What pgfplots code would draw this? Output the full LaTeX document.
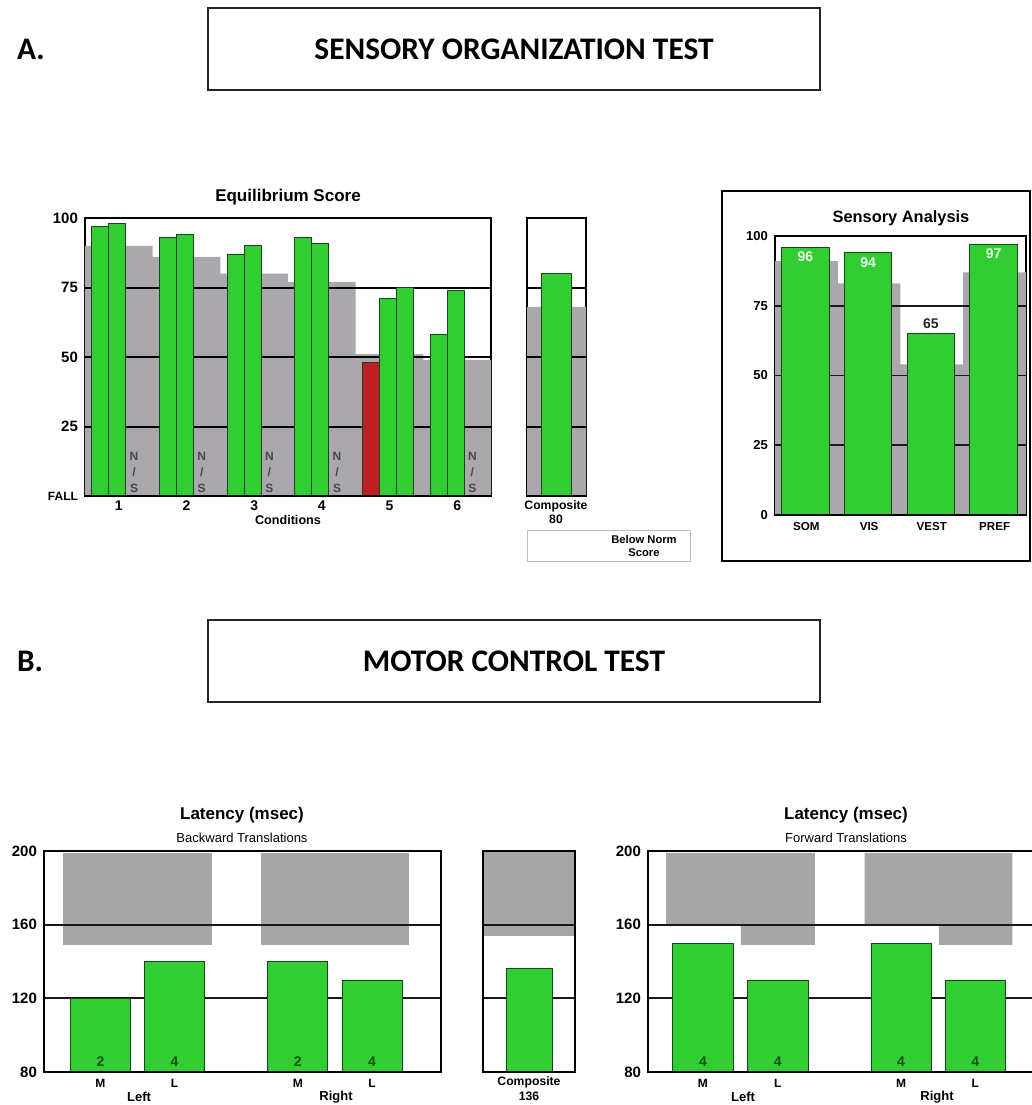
\documentclass[border=0pt]{standalone}
\usepackage{pgfplots}
\pgfplotsset{compat=1.18}
\usepackage{fontspec}
\setmainfont{Liberation Sans}
\newfontfamily\calfont{Carlito}
\definecolor{barg}{RGB}{50,205,50}
\definecolor{normg}{RGB}{170,168,172}
\definecolor{latg}{RGB}{166,166,166}
\definecolor{fallr}{RGB}{190,30,36}
\definecolor{edgeg}{RGB}{25,70,25}
\definecolor{numg}{RGB}{15,85,15}
\definecolor{nsg}{RGB}{70,70,75}
\newcommand{\fs}[1]{\fontsize{#1}{#1}\selectfont}
\pgfplotsset{
  panel/.style={scale only axis, anchor=north west,
    axis line style={line width=1pt},
    major tick length=0pt, tick style={draw=none},
    /pgf/number format/assume math mode=true,
    tick label style={font=\bfseries\fs{7.5}},
  },
  gline/.style={black, line width=1pt},
  lline/.style={black!90, line width=0.95pt},
  greenbar/.style={ybar, bar shift=0pt, fill=barg, draw=edgeg, line width=0.4pt},
}
\begin{document}
\begin{tikzpicture}[x=0.5pt,y=-0.5pt]
\useasboundingbox (0,0) rectangle (1032,1105);
\clip (0,0) rectangle (1032,1105);
\fill[white] (0,0) rectangle (1032,1105);

% ---------- headers
\draw[line width=0.8pt, black!85] (208,8) rectangle (820,90);
\node[font=\calfont\bfseries\fs{15.7}] at (514,49) {SENSORY ORGANIZATION TEST};
\node[font=\calfont\bfseries\fs{15.7}, anchor=west] at (10,49) {A.};
\draw[line width=0.8pt, black!85] (208,620) rectangle (820,702);
\node[font=\calfont\bfseries\fs{15.7}] at (514,661) {MOTOR CONTROL TEST};
\node[font=\calfont\bfseries\fs{15.7}, anchor=west] at (10,661) {B.};

% ---------- Equilibrium score
\node[font=\bfseries\fs{8.5}] at (288,197) {Equilibrium Score};
\begin{axis}[panel, name=eq, at={(42.5pt,-109pt)}, width=203pt, height=139pt,
  xmin=0, xmax=6, ymin=0, ymax=100,
  xtick={0.5,1.5,2.5,3.5,4.5,5.5}, xticklabels={1,2,3,4,5,6},
  ytick={0,25,50,75,100}, yticklabels={{\fs{6}FALL},25,50,75,100},
  xticklabel style={font=\bfseries\fs{7}, yshift=1pt}]
\addplot[const plot, fill=normg, draw=none] coordinates {(0,90)(1,86)(2,80)(3,77)(4,51)(5,49)(6,49)} \closedcycle;
\addplot[gline] coordinates {(0,25)(6,25)};
\addplot[gline] coordinates {(0,50)(6,50)};
\addplot[gline] coordinates {(0,75)(6,75)};
\addplot[greenbar, bar width=0.25] coordinates {(0.225,97)(1.225,93)(2.225,87)(3.225,93)(5.225,58)};
\addplot[greenbar, bar width=0.25, fill=fallr] coordinates {(4.225,48)};
\addplot[greenbar, bar width=0.25] coordinates {(0.475,98)(1.475,94)(2.475,90)(3.475,91)(4.475,71)(5.475,74)};
\addplot[greenbar, bar width=0.25] coordinates {(4.725,75)};
\foreach \c in {0.725,1.725,2.725,3.725,5.725}{
  \edef\tmp{\noexpand\node[font=\noexpand\bfseries\noexpand\fontsize{6}{8}\noexpand\selectfont, text=nsg, align=center, anchor=south, inner sep=0pt] at (axis cs:\c,1) {N\noexpand\\/\noexpand\\S};}
  \tmp
}
\end{axis}
\draw[line width=1.3pt] (eq.south west) -- (eq.south east);
\node[font=\bfseries\fs{6.3}] at (288,520) {Conditions};

% ---------- Composite (SOT)
\begin{axis}[panel, name=ca, at={(263.5pt,-109pt)}, width=29.5pt, height=139pt,
  xmin=0, xmax=1, ymin=0, ymax=100, xtick=\empty, ytick=\empty]
\addplot[const plot, fill=normg, draw=none] coordinates {(0,68)(1,68)} \closedcycle;
\addplot[gline] coordinates {(0,25)(1,25)};
\addplot[gline] coordinates {(0,50)(1,50)};
\addplot[gline] coordinates {(0,75)(1,75)};
\addplot[greenbar, bar width=0.5] coordinates {(0.5,80)};
\end{axis}
\draw[line width=1.3pt] (ca.south west) -- (ca.south east);
\node[font=\bfseries\fontsize{6.1}{7}\selectfont, align=center] at (556,512) {Composite\\80};
\draw[black!25, line width=0.5pt] (527,530) rectangle (690,561);
\node[font=\bfseries\fontsize{5.6}{6.5}\selectfont, align=center] at (644,546) {Below Norm\\Score};

% ---------- Sensory analysis
\draw[line width=1pt] (722,191) rectangle (1030,561);
\node[font=\bfseries\fs{8.2}] at (901,218) {Sensory Analysis};
\begin{axis}[panel, name=sa, at={(387.5pt,-118pt)}, width=125.5pt, height=139.5pt,
  xmin=0, xmax=4, ymin=0, ymax=100,
  xtick={0.5,1.5,2.5,3.5}, xticklabels={SOM,VIS,VEST,PREF},
  ytick={0,25,50,75,100}, yticklabels={0,25,50,75,100},
  yticklabel style={font=\bfseries\fs{6.5}},
  xticklabel style={font=\bfseries\fs{5.8}}]
\addplot[const plot, fill=normg, draw=none] coordinates {(0,91)(1,83)(2,54)(3,87)(4,87)} \closedcycle;
\addplot[lline] coordinates {(0,25)(4,25)};
\addplot[lline] coordinates {(0,50)(4,50)};
\addplot[lline] coordinates {(0,75)(4,75)};
\addplot[greenbar, bar width=0.754] coordinates {(0.483,96)(1.483,94)(2.483,65)(3.483,97)};
\node[font=\bfseries\fs{7}, text=green!8] at (axis cs:0.483,92.5) {96};
\node[font=\bfseries\fs{7}, text=green!8] at (axis cs:1.483,90.5) {94};
\node[font=\bfseries\fs{7}, text=black!85] at (axis cs:2.483,68.5) {65};
\node[font=\bfseries\fs{7}, text=green!8] at (axis cs:3.483,93.5) {97};
\end{axis}
\draw[line width=1.2pt] (sa.south west) -- (sa.south east);

% ---------- Latency, backward
\node[font=\bfseries\fs{8.5}] at (242,815) {Latency (msec)};
\node[font=\fs{6.5}] at (242,838) {Backward Translations};
\begin{axis}[panel, axis on top, name=lb, at={(22pt,-425.5pt)}, width=198.5pt, height=110.5pt,
  xmin=0, xmax=5.35, ymin=80, ymax=200,
  xtick={0.76,1.76,3.42,4.42}, xticklabels={M,L,M,L},
  ytick={80,120,160,200}, yticklabels={80,120,160,200},
  xticklabel style={font=\bfseries\fs{6}}]
\addplot[fill=latg, draw=none] coordinates {(0.26,149)(2.26,149)(2.26,199)(0.26,199)} -- cycle;
\addplot[fill=latg, draw=none] coordinates {(2.92,149)(4.92,149)(4.92,199)(2.92,199)} -- cycle;
\addplot[lline] coordinates {(0,120)(5.35,120)};
\addplot[lline] coordinates {(0,160)(5.35,160)};
\addplot[greenbar, bar width=0.81] coordinates {(0.76,120)(1.76,140)(3.42,140)(4.42,130)};
\node[font=\bfseries\fs{7}, text=numg] at (axis cs:0.76,85.5) {2};
\node[font=\bfseries\fs{7}, text=numg] at (axis cs:1.76,85.5) {4};
\node[font=\bfseries\fs{7}, text=numg] at (axis cs:3.42,85.5) {2};
\node[font=\bfseries\fs{7}, text=numg] at (axis cs:4.42,85.5) {4};
\end{axis}
\node[font=\bfseries\fs{6.5}] at (139,1097) {Left};
\node[font=\bfseries\fs{6.5}] at (336,1097) {Right};

% ---------- Composite (MCT)
\begin{axis}[panel, axis on top, name=cb, at={(241.5pt,-425.5pt)}, width=46pt, height=110.5pt,
  xmin=0, xmax=1, ymin=80, ymax=200, xtick=\empty, ytick=\empty]
\addplot[fill=latg, draw=none] coordinates {(0,154)(1,154)(1,200)(0,200)} -- cycle;
\addplot[lline] coordinates {(0,120)(1,120)};
\addplot[lline] coordinates {(0,160)(1,160)};
\addplot[greenbar, bar width=0.5] coordinates {(0.5,136)};
\end{axis}
\node[font=\bfseries\fontsize{6.1}{7.5}\selectfont, align=center] at (529,1089) {Composite\\136};

% ---------- Latency, forward
\node[font=\bfseries\fs{8.5}] at (846,815) {Latency (msec)};
\node[font=\fs{6.5}] at (846,838) {Forward Translations};
\begin{axis}[panel, axis on top, name=lf, at={(324pt,-425.5pt)}, width=198.5pt, height=110.5pt,
  xmin=0, xmax=5.35, ymin=80, ymax=200,
  xtick={0.74,1.75,3.41,4.41}, xticklabels={M,L,M,L},
  ytick={80,120,160,200}, yticklabels={80,120,160,200},
  xticklabel style={font=\bfseries\fs{6}}]
\addplot[fill=latg, draw=none] coordinates {(0.243,160)(1.25,160)(1.25,149)(2.25,149)(2.25,199)(0.243,199)} -- cycle;
\addplot[fill=latg, draw=none] coordinates {(2.92,160)(3.92,160)(3.92,149)(4.91,149)(4.91,199)(2.92,199)} -- cycle;
\addplot[lline] coordinates {(0,120)(5.35,120)};
\addplot[lline] coordinates {(0,160)(5.35,160)};
\addplot[greenbar, bar width=0.81] coordinates {(0.74,150)(1.75,130)(3.41,150)(4.41,130)};
\node[font=\bfseries\fs{7}, text=numg] at (axis cs:0.74,85.5) {4};
\node[font=\bfseries\fs{7}, text=numg] at (axis cs:1.75,85.5) {4};
\node[font=\bfseries\fs{7}, text=numg] at (axis cs:3.41,85.5) {4};
\node[font=\bfseries\fs{7}, text=numg] at (axis cs:4.41,85.5) {4};
\end{axis}
\node[font=\bfseries\fs{6.5}] at (743,1097) {Left};
\node[font=\bfseries\fs{6.5}] at (937,1097) {Right};
\end{tikzpicture}
\end{document}
